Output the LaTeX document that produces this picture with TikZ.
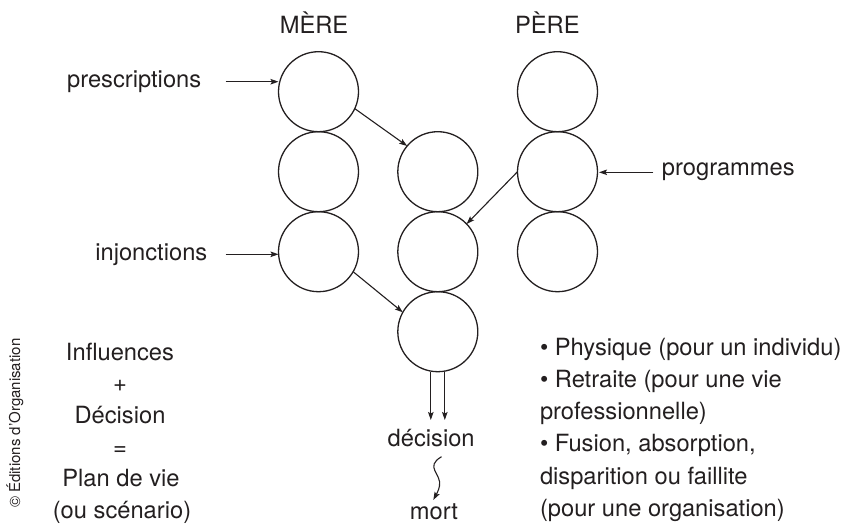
\documentclass[tikz,border=0pt]{standalone}
\usepackage{fontspec}
\setmainfont{TeX Gyre Heros}
\usetikzlibrary{arrows.meta}
\definecolor{ink}{RGB}{35,31,32}
\begin{document}
\begin{tikzpicture}[x=1pt,y=-1pt,
  every node/.style={text=ink, inner sep=0pt, outer sep=0pt},
  lbl/.style={font=\fontsize{23.7}{28}\selectfont, anchor=base},
  lblw/.style={font=\fontsize{23.7}{28}\selectfont, anchor=base west},
  circ/.style={circle, draw=ink, line width=1.3pt, minimum size=80pt},
  arr/.style={draw=ink, line width=1.1pt, -{Stealth[length=8pt,width=5.5pt,inset=1.5pt]}},
]
\useasboundingbox (0,0) rectangle (848,525);

% circles
\node[circ] (L1) at (318.5,91.7) {};
\node[circ] (L2) at (318.5,171.7) {};
\node[circ] (L3) at (318.5,251.7) {};
\node[circ] (M1) at (437.8,171.7) {};
\node[circ] (M2) at (437.8,251.7) {};
\node[circ] (M3) at (437.8,331.7) {};
\node[circ] (R1) at (557.5,91.7) {};
\node[circ] (R2) at (557.5,171.7) {};
\node[circ] (R3) at (557.5,251.7) {};

% headings
\node[lbl] (mere) at (314,33.3) {MÈRE};
\node[lbl] (pere) at (547.3,33.3) {PÈRE};

% side labels
\node[lbl] (presc) at (134.2,87.3) {prescriptions};
\node[lbl] (injon) at (151.3,260) {injonctions};
\node[lbl] (progr) at (728.3,175) {programmes};

\coordinate (pA) at (225.7,81.7);
\coordinate (iA) at (225.7,254.3);
\coordinate (gA) at (653.3,172.3);
\draw[arr] (pA) -- (pA -| L1.west);
\draw[arr] (iA) -- (iA -| L3.west);
\draw[arr] (gA) -- ([xshift=1.5pt]gA -| R2.east);

% arrows between circles
\draw[arr] (L1.-25) -- (M1.140);
\draw[arr] (R2.west) -- ([shift={(2pt,-2pt)}]M2.48);
\draw[arr] (L3.-30) -- (M3.151);

% decision
\node[lbl] (dec) at (431.2,446.7) {décision};
\node[lbl] (mort) at (434,519.5) {mort};
\coordinate (d1) at (430.8,420);
\coordinate (d2) at (444.8,420);
\draw[arr] ([xshift=-7pt]M3.south) -- (d1);
\draw[arr] ([xshift=7pt]M3.south) -- (d2);

\coordinate (w0) at (441.5,456.7);
\coordinate (w1) at (439.5,486);
\coordinate (w2) at (433.3,500);
\draw[arr] (w0) .. controls (424,467) and (442,474) .. (w1) .. controls (438.5,491) and (436,495) .. (w2);

% left block
\node[lbl] (t1) at (120,360) {Influences};
\node[lbl] (t2) at (120,391.7) {+};
\node[lbl] (t3) at (120,423.3) {Décision};
\node[lbl] (t4) at (120,455) {=};
\node[lbl] (t5) at (121,486.7) {Plan de vie};
\node[lbl] (t6) at (122,518.3) {(ou scénario)};

% right block
\node[lblw] (r1) at (540,355) {• Physique (pour un individu)};
\node[lblw] (r2) at (540,387.3) {• Retraite (pour une vie};
\node[lblw] (r3) at (540,419.5) {professionnelle)};
\node[lblw] (r4) at (540,451.8) {• Fusion, absorption,};
\node[lblw] (r5) at (540,484) {disparition ou faillite};
\node[lblw] (r6) at (540,516.3) {(pour une organisation)};

% copyright
\node[rotate=90, font=\fontsize{15}{17}\selectfont] (copy) at (15,423.3) {© Éditions d'Organisation};
\end{tikzpicture}
\end{document}
